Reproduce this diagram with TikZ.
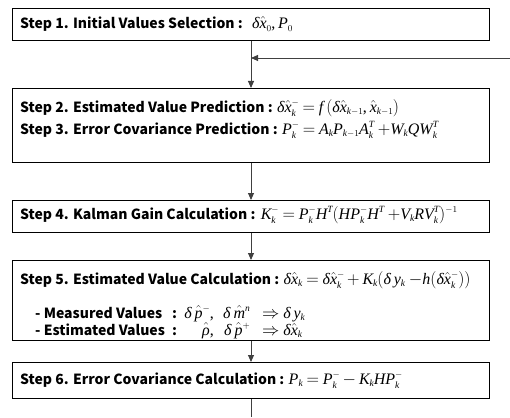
\documentclass[tikz,border=0pt]{standalone}
\usepackage{fontspec}
\setmainfont{Noto Sans CJK KR}
\newfontfamily\tmrfont{Liberation Serif}[NFSSFamily=tmrlib]
\DeclareSymbolFont{tmit}{TU}{tmrlib}{m}{it}
\DeclareSymbolFont{tmup}{TU}{tmrlib}{m}{n}
\makeatletter
\@for\ltr:=x,P,f,k,A,W,Q,K,H,V,R,T,y,h,p,m,n\do{%
  \expandafter\DeclareMathSymbol\expandafter{\ltr}{\mathalpha}{tmit}{\expandafter`\ltr}}
\makeatother
\DeclareMathSymbol{0}{\mathalpha}{tmup}{`0}
\DeclareMathSymbol{1}{\mathalpha}{tmup}{`1}
\DeclareMathSymbol{=}{\mathrel}{tmup}{`=}
\DeclareMathSymbol{+}{\mathbin}{tmup}{`+}
\DeclareMathSymbol{,}{\mathpunct}{tmup}{`,}
\DeclareMathSymbol{(}{\mathopen}{tmup}{`(}
\DeclareMathSymbol{)}{\mathclose}{tmup}{`)}
\DeclareMathSizes{16}{16}{9.5}{7}
\thickmuskip=4mu plus 2mu
\medmuskip=3mu plus 1mu
\scriptspace=0pt
\newcommand{\tdel}{\mathord{\mbox{\tmrfont\itshape δ}}}
\newcommand{\trho}{\mathord{\mbox{\tmrfont\itshape ρ}}}
\usetikzlibrary{arrows.meta}
\begin{document}
\begin{tikzpicture}[x=1pt,y=-1pt,
  box/.style={draw=black, line width=1pt, minimum width=477pt, inner sep=0pt, anchor=north west},
  lbl/.style={anchor=base west, inner sep=0pt, text height=10pt, text depth=2pt, font=\fontsize{14}{17}\selectfont\bfseries},
  eq/.style={anchor=base west, inner sep=0pt, text height=10pt, text depth=2pt, font=\fontsize{16}{19}\selectfont},
  conn/.style={draw=black!75, line width=0.9pt},
  arr/.style={conn, -{Triangle[length=7pt,width=6pt]}}]
\useasboundingbox (0,0) rectangle (510,417);
% boxes
\node[box, minimum height=32pt] (b1) at (12,8) {};
\node[box, minimum height=74pt] (b2) at (12,88) {};
\node[box, minimum height=32pt] (b4) at (12,200) {};
\node[box, minimum height=80pt] (b5) at (12,260) {};
\node[box, minimum height=36pt] (b6) at (12,362) {};
% texts
\node[lbl] (t1) at (20,29) {Step 1. Initial Values Selection :};
\node[eq, xshift=9pt] (e1) at (t1.base east) {$\tdel\hat{x}_0, P_0$};
\node[lbl] (t2) at (20,112) {Step 2. Estimated Value Prediction :};
\node[eq, xshift=4pt] (e2) at (t2.base east) {$\tdel\hat{x}_k^- = f\,(\tdel\hat{x}_{k-1}, \hat{x}_{k-1})$};
\node[lbl] (t3) at (20,134) {Step 3. Error Covariance Prediction :};
\node[eq, xshift=4pt] (e3) at (t3.base east) {$P_k^- = A_k P_{k-1} A_k^T \;{+}W_k Q W_k^T$};
\node[lbl] (t4) at (20,219) {Step 4. Kalman Gain Calculation :};
\node[eq, xshift=5pt] (e4) at (t4.base east) {$K_k^- = P_k^- H^T (H P_k^- H^T \;{+}V_k R V_k^T)^{-1}$};
\node[lbl] (t5) at (20,284) {Step 5. Estimated Value Calculation :};
\node[eq, xshift=4pt] (e5) at (t5.base east) {$\tdel\hat{x}_k = \tdel\hat{x}_k^- + K_k(\tdel\, y_k \;{-}h(\tdel\hat{x}_k^-))$};
\node[lbl] (m1) at (35,318) {\makebox[137pt][l]{- Measured Values}:};
\node[eq, anchor=base east] (m2) at (214,318) {$\tdel\,\hat{p}^-,$};
\node[eq] (m3) at (223,318) {$\tdel\,\hat{m}^n$};
\node[eq] (m4) at (262,318) {$\Rightarrow \tdel\, y_k$};
\node[lbl] (s1) at (35,335) {\makebox[137pt][l]{- Estimated Values}:};
\node[eq, anchor=base east] (s2) at (214,335) {$\hat{\trho},$};
\node[eq] (s3) at (224,335) {$\tdel\,\hat{p}^+$};
\node[eq] (s4) at (262,335) {$\Rightarrow \tdel\hat{x}_k$};
\node[lbl] (t6) at (20,384) {Step 6. Error Covariance Calculation :};
\node[eq, xshift=4pt] (e6) at (t6.base east) {$P_k = P_k^- - K_k H P_k^-$};
% connectors
\coordinate (fbs) at (510,58);
\coordinate (fbe) at (b1.south |- fbs);
\coordinate (fin) at (b1.south |- 0,417);
\draw[arr] (b1.south) -- (b2.north);
\draw[arr] (fbs) -- (fbe);
\draw[arr] (b2.south) -- (b4.north);
\draw[arr] (b4.south) -- (b5.north);
\draw[arr] (b5.south) -- (b6.north);
\draw[conn] (b6.south) -- (fin);
\end{tikzpicture}
\end{document}
